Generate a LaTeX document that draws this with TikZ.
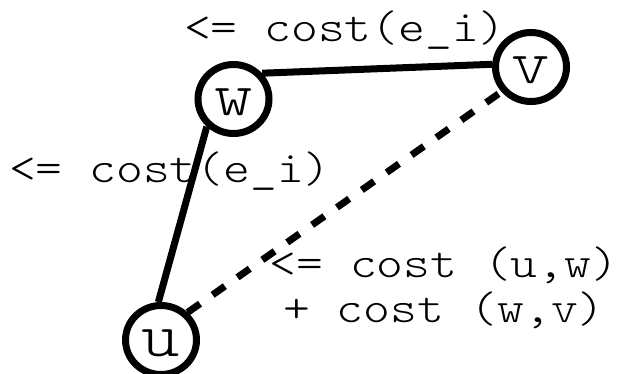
\documentclass[tikz,border=0pt]{standalone}
\usepackage{fontspec}
\setmonofont{Latin Modern Mono Light}[FakeStretch=1.16]
\usetikzlibrary{shapes.geometric}
\tikzset{
  vertex/.style={ellipse, draw=black, line width=7pt, minimum width=71pt, minimum height=69pt,
    inner sep=0pt, font=\ttfamily\fontsize{63}{63}\selectfont, text height=33pt, text depth=0pt},
  edge/.style={draw=black, line width=7pt},
  dashededge/.style={edge, dash pattern=on 15pt off 15.4pt},
  lbl/.style={inner sep=0pt, font=\ttfamily\fontsize{44}{45}\selectfont}
}
\begin{document}
\begin{tikzpicture}[x=1pt, y=-1pt]
  \useasboundingbox (0,0) rectangle (620,374);
  \node[vertex] (w) at (233.5,99) {w};
  \node[vertex] (v) at (531,67) {v};
  \node[vertex] (u) at (161,340) {u};
  \draw[edge] (w.42) -- (v.176);
  \draw[edge] (w.226) -- (u.94);
  \draw[dashededge] (u.46) -- (v.220);
  \node[lbl, anchor=base west] (l1) at (184,42) {<= cost(e\_i)};
  \node[lbl, anchor=base west] (l2) at (9,182) {<= cost(e\_i)};
  \node[lbl, anchor=base] (l3) at (444,277) {<= cost (u,w)};
  \node[lbl, anchor=base] (l4) at (444,322) {+ cost (w,v)};
\end{tikzpicture}
\end{document}
